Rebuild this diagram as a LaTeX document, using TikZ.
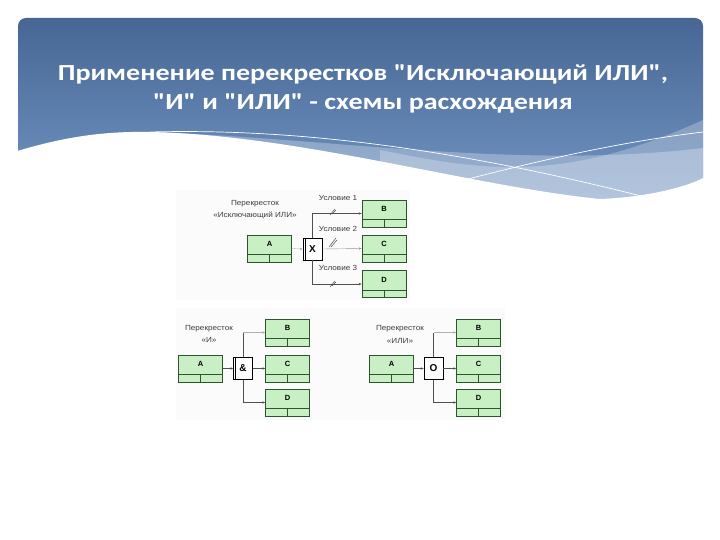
\documentclass[tikz,border=0pt]{standalone}
\usepackage{fontspec}
\setmainfont{Liberation Sans}
\newfontfamily\titlefont[FakeStretch=1.22]{Carlito}
\newfontfamily\labfont[FakeStretch=1.1]{Liberation Sans}
\usetikzlibrary{arrows.meta}
\definecolor{hdtop}{RGB}{70,103,148}
\definecolor{hdbot}{RGB}{118,152,198}
\definecolor{boxfill}{RGB}{200,240,196}
\definecolor{boxline}{RGB}{45,85,45}
\definecolor{conn}{RGB}{80,80,80}
\definecolor{txt}{RGB}{60,60,60}
\definecolor{imgbg}{RGB}{251,251,251}
\tikzset{
  pbox/.style={draw=boxline, fill=boxfill, line width=0.7pt, minimum width=44pt, minimum height=27pt, inner sep=0pt},
  gate/.style={draw=black, fill=white, line width=0.6pt, minimum width=19pt, minimum height=22pt, inner sep=0pt, font=\bfseries\fontsize{10}{10}\selectfont},
  cn/.style={draw=conn, line width=0.6pt, -{Stealth[length=3pt,width=2.4pt]}},
  faint/.style={draw=conn!45, line width=0.3pt, -{Stealth[length=3pt,width=2.4pt]}},
  lab/.style={text=txt, font=\labfont\fontsize{7.4}{8}\selectfont, inner sep=0pt},
  blab/.style={text=black, font=\bfseries\fontsize{7.5}{7.5}\selectfont, inner sep=0pt},
  tick/.style={draw=conn, line width=0.5pt},
}
\newcommand\pbx[4]{%
  \node[pbox] (#1) at (#2,#3) {};
  \draw[boxline, line width=0.7pt] ([yshift=8pt]#1.south west) -- ([yshift=8pt]#1.south east);
  \draw[boxline, line width=0.7pt] (#1.south) -- ([yshift=8pt]#1.south);
  \node[blab] (#1t) at ([yshift=-9.5pt]#1.north) {#4};
}
\begin{document}
\begin{tikzpicture}[x=1pt,y=-1pt]
\useasboundingbox (0,0) rectangle (720,540);
\fill[white] (0,0) rectangle (720,540);
% header
\shade[top color=hdtop, bottom color=hdbot, rounded corners=8pt] (18,215) rectangle (703,18);
\fill[white, opacity=0.28] (150,132) .. controls (330,138) and (520,170) .. (703,148) -- (703,210) -- (150,210) -- cycle;
\fill[white, opacity=0.25] (380,150) .. controls (480,170) and (560,185) .. (703,120) -- (703,210) -- (380,210) -- cycle;
\fill[white] (14,152) .. controls (60,138) and (100,131) .. (150,132) .. controls (300,135) and (470,186) .. (600,199) .. controls (650,197) and (690,186) .. (707,176) -- (707,220) -- (14,220) -- cycle;
\draw[white, line width=0.7pt] (150,132) .. controls (300,128) and (460,150) .. (645,197);
\draw[white, line width=0.7pt] (445,185) .. controls (540,160) and (620,142) .. (703,132);
% title
\node[text=white, font=\titlefont\bfseries\fontsize{23}{28.5}\selectfont, align=center] (title) at (363,89) {Применение перекрестков "Исключающий ИЛИ",\\"И" и "ИЛИ" - схемы расхождения};
% image backgrounds
\fill[imgbg] (176,190) rectangle (410,300);
\fill[imgbg] (176,308) rectangle (505,420);
% top diagram
\pbx{A1}{269.5}{248.5}{A}
\pbx{B1}{384}{213.5}{B}
\pbx{C1}{384}{248.5}{C}
\pbx{D1}{384}{284}{D}
\node[gate] (X) at (312.5,249) {X};
\draw[black, line width=0.6pt] ([xshift=2.5pt]X.north west) -- ([xshift=2.5pt]X.south west);
\draw[faint] (A1.east) -- (X.west);
\draw[cn] (X.north) |- (B1.west);
\draw[cn, draw=conn!60, line width=0.4pt] (X.east) -- (C1.west);
\draw[cn] (X.south) |- (D1.west);
\node[lab] (p1) at (255,204) {Перекресток};
\node[lab] (p2) at (255,215) {«Исключающий ИЛИ»};
\node[lab] (u1) at (338,198) {Условие 1};
\node[lab] (u2) at (338,229) {Условие 2};
\node[lab] (u3) at (338,268) {Условие 3};
\draw[tick] (330,215) -- (335,209); \draw[tick] (332,214) -- (336,210);
\draw[tick] (329,247) -- (336,238); \draw[tick] (331,247) -- (337,240);
\draw[tick] (330,287) -- (335,281); \draw[tick] (332,286) -- (336,282);
% bottom left
\pbx{A2}{200.5}{368.5}{A}
\pbx{B2}{287.5}{332.5}{B}
\pbx{C2}{287.5}{368.5}{C}
\pbx{D2}{287.5}{402.5}{D}
\node[gate] (N) at (243,368.5) {\&};
\draw[black, line width=0.6pt] ([xshift=2.5pt]N.north west) -- ([xshift=2.5pt]N.south west);
\draw[cn] (A2.east) -- (N.west);
\draw[conn, line width=0.6pt] (N.north) -- (N.north |- B2.west);
\draw[faint] (N.north |- B2.west) -- (B2.west);
\draw[cn] (N.east) -- (C2.west);
\draw[cn] (N.south) |- (D2.west);
\node[lab] (q1) at (209,329) {Перекресток};
\node[lab] (q2) at (209,340) {«И»};
% bottom right
\pbx{A3}{391.5}{368.5}{A}
\pbx{B3}{478.5}{332.5}{B}
\pbx{C3}{478.5}{368.5}{C}
\pbx{D3}{478.5}{402.5}{D}
\node[gate] (O) at (433.5,368.5) {O};
\draw[cn] (A3.east) -- (O.west);
\draw[conn, line width=0.6pt] (O.north) -- (O.north |- B3.west);
\draw[faint] (O.north |- B3.west) -- (B3.west);
\draw[cn] (O.east) -- (C3.west);
\draw[cn] (O.south) |- (D3.west);
\node[lab] (r1) at (400,329) {Перекресток};
\node[lab] (r2) at (400,341) {«ИЛИ»};
\end{tikzpicture}
\end{document}
